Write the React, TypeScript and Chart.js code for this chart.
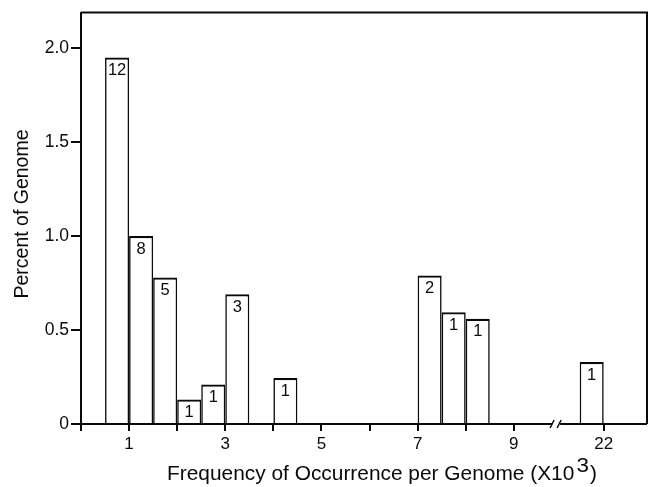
import React, { useEffect, useRef } from "react";
import { Chart, registerables } from "chart.js";

Chart.register(...registerables);

// ---- data ----
const binStarts = [0.5, 1, 1.5, 2, 2.5, 3, 4, 7, 7.5, 8, 21.5];
const percents = [1.95, 1.0, 0.78, 0.13, 0.21, 0.69, 0.245, 0.79, 0.595, 0.56, 0.33];
const counts = [12, 8, 5, 1, 1, 3, 1, 2, 1, 1, 1];
const xTickValues = [0, 1, 2, 3, 4, 5, 6, 7, 8, 9, 22];
const xTickLabels = ["", "1", "", "3", "", "5", "", "7", "", "9", "22"];
const yTickValues = [0, 0.5, 1, 1.5, 2];
const yTickLabels = ["0", "0.5", "1.0", "1.5", "2.0"];
const binWidth = 0.5;

// axis break: values above BREAK_FROM are shifted left
const BREAK_FROM = 10;
const BREAK_AT = 9.88; // scale position of the "//" mark
const BREAK_SHIFT = 22 - 10.87;
const X_MAX = 11.77;
const Y_MAX = 2.19;
const mapX = (v: number) => (v > BREAK_FROM ? v - BREAK_SHIFT : v);

const FONT = "'Liberation Sans', Arial, Helvetica, sans-serif";
const INK = "#0a0a0a";

const framePlugin = {
  id: "frame",
  afterDatasetsDraw(chart: any) {
    const ctx = chart.ctx;
    const meta = chart.getDatasetMeta(0);
    ctx.save();
    ctx.fillStyle = INK;
    ctx.font = `16.5px ${FONT}`;
    ctx.textAlign = "center";
    ctx.textBaseline = "middle";
    meta.data.forEach((el: any, i: number) => {
      ctx.fillText(String(counts[i]), el.x, el.y + 13);
    });
    ctx.restore();
  },
  afterDraw(chart: any) {
    const ctx = chart.ctx;
    const { left, right, top, bottom } = chart.chartArea;
    const xs = chart.scales.x;
    const bx = xs.getPixelForValue(BREAK_AT);
    ctx.save();
    ctx.strokeStyle = INK;
    ctx.lineWidth = 2;
    ctx.beginPath();
    // top and right frame
    ctx.moveTo(left, top);
    ctx.lineTo(right, top);
    ctx.lineTo(right, bottom);
    // bottom axis with break
    ctx.moveTo(right, bottom);
    ctx.lineTo(bx + 4, bottom);
    ctx.moveTo(bx - 4, bottom);
    ctx.lineTo(left, bottom);
    ctx.stroke();
    ctx.lineWidth = 1.5;
    ctx.beginPath();
    ctx.moveTo(bx - 6, bottom + 4);
    ctx.lineTo(bx - 2, bottom - 4);
    ctx.moveTo(bx + 1, bottom + 4);
    ctx.lineTo(bx + 5, bottom - 4);
    ctx.stroke();

    // y title
    ctx.fillStyle = INK;
    ctx.font = `19.5px ${FONT}`;
    ctx.textAlign = "center";
    ctx.textBaseline = "alphabetic";
    ctx.save();
    ctx.translate(28, 214);
    ctx.rotate(-Math.PI / 2);
    ctx.fillText("Percent of Genome", 0, 0);
    ctx.restore();

    // x title with superscript
    const main = "Frequency of Occurrence per Genome (X10";
    const sup = "3";
    const tail = ")";
    ctx.font = `19.5px ${FONT}`;
    const w1 = ctx.measureText(main).width;
    const w3 = ctx.measureText(tail).width;
    ctx.font = `21px ${FONT}`;
    const w2 = ctx.measureText(sup).width;
    const total = w1 + w2 + 3 + w3;
    const target = 430;
    const sx = target / total;
    const y = 480;
    ctx.save();
    ctx.translate(167, y);
    ctx.scale(sx, 1);
    let x = 0;
    ctx.textAlign = "left";
    ctx.font = `19.5px ${FONT}`;
    ctx.fillText(main, x, 0);
    x += w1 + 2;
    ctx.font = `21px ${FONT}`;
    ctx.fillText(sup, x, -8);
    x += w2 + 1;
    ctx.font = `19.5px ${FONT}`;
    ctx.fillText(tail, x, 0);
    ctx.restore();
    ctx.restore();
  },
};

export default function App() {
  const ref = useRef<HTMLCanvasElement | null>(null);
  useEffect(() => {
    if (!ref.current) return;
    const chart = new Chart(ref.current, {
      type: "bar",
      data: {
        datasets: [
          {
            data: binStarts.map((s, i) => ({ x: mapX(s + binWidth / 2), y: percents[i] })),
            backgroundColor: "#ffffff",
            borderColor: INK,
            borderWidth: { top: 2.2, left: 1.6, right: 1.6, bottom: 0 },
            borderSkipped: false,
            barPercentage: 1,
            categoryPercentage: 1,
            inflateAmount: 0,
          } as any,
        ],
      },
      options: {
        animation: false,
        responsive: true,
        maintainAspectRatio: false,
        layout: { padding: { top: 12, right: 8, left: 1, bottom: 0 } },
        plugins: {
          legend: { display: false },
          tooltip: { enabled: false },
        },
        scales: {
          x: {
            type: "linear",
            min: 0,
            max: X_MAX,
            offset: false,
            afterFit: (s: any) => {
              s.height = 63;
            },
            afterBuildTicks: (s: any) => {
              s.ticks = xTickValues.map((v) => ({ value: mapX(v) }));
            },
            ticks: {
              autoSkip: false,
              maxRotation: 0,
              padding: 3,
              color: INK,
              font: { family: FONT, size: 17 },
              callback: (_v: any, idx: number) => xTickLabels[idx],
            },
            grid: {
              offset: false,
              drawOnChartArea: false,
              drawTicks: true,
              tickLength: 7,
              color: INK,
              lineWidth: 2,
            },
            border: { display: false },
          },
          y: {
            min: 0,
            max: Y_MAX,
            afterFit: (s: any) => {
              s.width = 80;
            },
            afterBuildTicks: (s: any) => {
              s.ticks = yTickValues.map((v) => ({ value: v }));
            },
            ticks: {
              padding: 2,
              color: INK,
              font: { family: FONT, size: 17.5 },
              callback: (_v: any, idx: number) => yTickLabels[idx],
            },
            grid: {
              drawOnChartArea: false,
              drawTicks: true,
              tickLength: 10,
              color: INK,
              lineWidth: 2,
            },
            border: { display: true, color: INK, width: 2 },
          },
        },
      } as any,
      plugins: [framePlugin],
    });
    return () => chart.destroy();
  }, []);
  return (
    <div style={{ position: "fixed", left: 0, top: 0, width: 655, height: 487, background: "#fff" }}>
      <canvas ref={ref} />
    </div>
  );
}
